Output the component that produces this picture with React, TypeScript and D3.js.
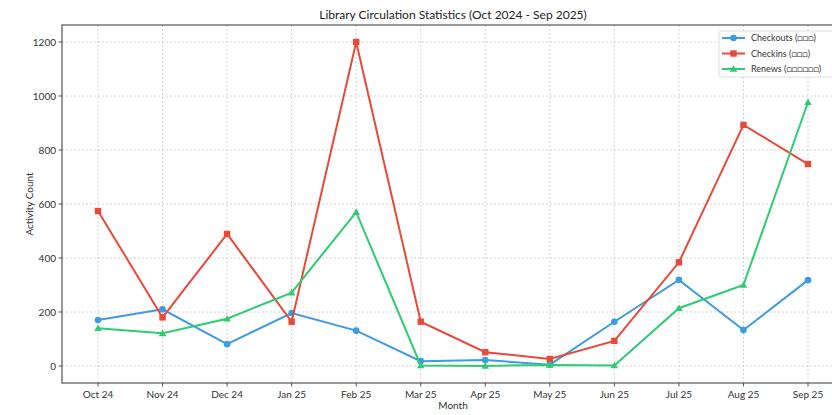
import React from "react";
import * as d3 from "d3";

const months = ["Oct 24","Nov 24","Dec 24","Jan 25","Feb 25","Mar 25","Apr 25","May 25","Jun 25","Jul 25","Aug 25","Sep 25"];
const checkouts = [170, 210, 81, 196, 131, 18, 22, 5, 164, 319, 133, 318];
const checkins = [574, 180, 489, 164, 1200, 164, 51, 26, 93, 384, 893, 748];
const renews = [140, 121, 175, 272, 570, 2, 0, 4, 2, 214, 300, 977];
const yTicks = [0, 200, 400, 600, 800, 1000, 1200];
const seriesNames = ["Checkouts (\u25A1\u25A1\u25A1)", "Checkins (\u25A1\u25A1\u25A1)", "Renews (\u25A1\u25A1\u25A1\u25A1\u25A1\u25A1)"];
const seriesColors = ["#3d9be0", "#e8493b", "#2ecc71"];
const seriesShapes = ["circle", "square", "triangle"];

const W = 832, H = 415;
const left = 62, right = 844, top = 25, bottom = 383;
const FONT = "Lato, 'DejaVu Sans', sans-serif";

function Marker({ shape, x, y, color }: { shape: string; x: number; y: number; color: string }) {
  if (shape === "circle") return <circle cx={x} cy={y} r={3.3} fill={color} />;
  if (shape === "square") return <rect x={x - 3.2} y={y - 3.2} width={6.4} height={6.4} fill={color} />;
  const s = 3.8;
  return <path d={`M${x},${y - s} L${x + s},${y + s * 0.75} L${x - s},${y + s * 0.75} Z`} fill={color} />;
}

export default function App() {
  const x = d3.scalePoint<string>().domain(months).range([98, 808]);
  const y = d3.scaleLinear().domain([0, 1200]).range([366, 42]);
  const data = [checkouts, checkins, renews];
  const line = d3.line<number>().x((_, i) => x(months[i])!).y((d) => y(d));

  return (
    <svg width={W} height={H} style={{ position: "absolute", left: 0, top: 0, background: "#fff" }} fontFamily={FONT}>
      {months.map((m) => (
        <line key={"gx" + m} x1={x(m)} x2={x(m)} y1={top} y2={bottom} stroke="#cfcfcf" strokeWidth={0.9} strokeDasharray="2,2" />
      ))}
      {yTicks.map((t) => (
        <line key={"gy" + t} x1={left} x2={right} y1={y(t)} y2={y(t)} stroke="#cfcfcf" strokeWidth={0.9} strokeDasharray="2,2" />
      ))}
      {data.map((vals, si) => (
        <g key={"s" + si}>
          <path d={line(vals)!} fill="none" stroke={seriesColors[si]} strokeWidth={2} />
          {vals.map((v, i) => (
            <Marker key={i} shape={seriesShapes[si]} x={x(months[i])!} y={y(v)} color={seriesColors[si]} />
          ))}
        </g>
      ))}
      <rect x={left} y={top} width={right - left} height={bottom - top} fill="none" stroke="#555" strokeWidth={1.2} />
      {yTicks.map((t) => (
        <g key={"ty" + t}>
          <line x1={left - 3.5} x2={left} y1={y(t)} y2={y(t)} stroke="#555" />
          <text x={left - 6} y={y(t)} dy="0.35em" textAnchor="end" fontSize={10} fill="#333">{t}</text>
        </g>
      ))}
      {months.map((m) => (
        <g key={"tx" + m}>
          <line x1={x(m)} x2={x(m)} y1={bottom} y2={bottom + 3.5} stroke="#555" />
          <text x={x(m)} y={bottom + 15} textAnchor="middle" fontSize={10} fill="#333">{m}</text>
        </g>
      ))}
      <text x={(left + right) / 2} y={19} textAnchor="middle" fontSize={12} fill="#222">Library Circulation Statistics (Oct 2024 - Sep 2025)</text>
      <text x={(left + right) / 2} y={409} textAnchor="middle" fontSize={10} fill="#333">Month</text>
      <text transform={`translate(33,${(top + bottom) / 2}) rotate(-90)`} textAnchor="middle" fontSize={10} fill="#333">Activity Count</text>
      <rect x={719} y={31} width={130} height={46} rx={2} fill="#fff" fillOpacity={0.85} stroke="#ddd" />
      {seriesNames.map((n, i) => {
        const ly = 38 + i * 15.5;
        return (
          <g key={"lg" + i}>
            <line x1={722} x2={745} y1={ly} y2={ly} stroke={seriesColors[i]} strokeWidth={2} />
            <Marker shape={seriesShapes[i]} x={733.5} y={ly} color={seriesColors[i]} />
            <text x={751} y={ly} dy="0.35em" fontSize={9} fill="#333">{n}</text>
          </g>
        );
      })}
    </svg>
  );
}
